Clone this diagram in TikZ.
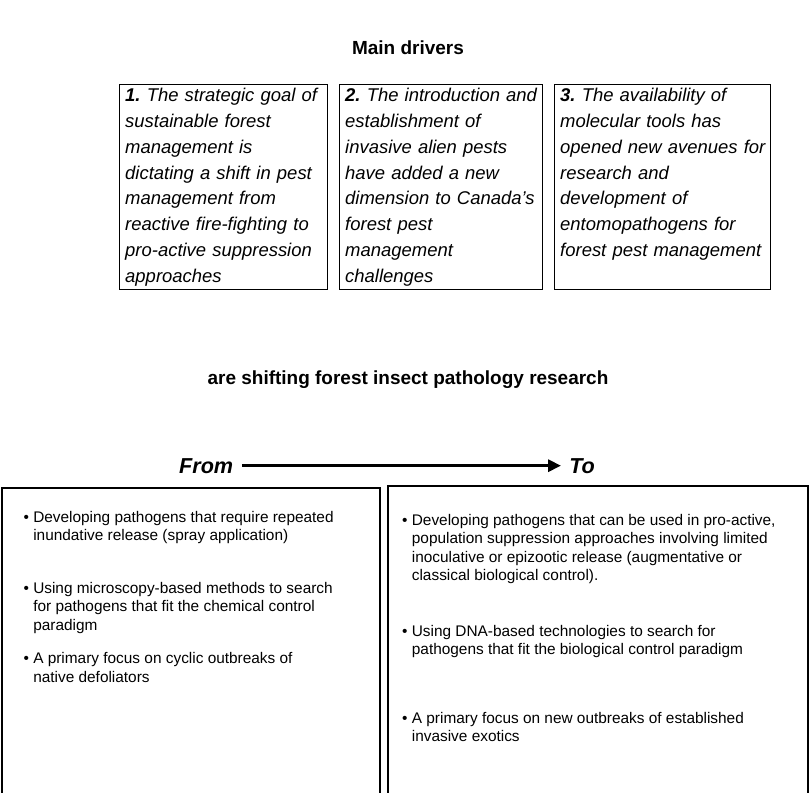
\documentclass[tikz,border=0pt]{standalone}
\usepackage{fontspec}
\setmainfont{Liberation Sans}
\usetikzlibrary{positioning}
\usetikzlibrary{arrows.meta}

\frenchspacing
\newcommand{\bul}[1]{\textbullet\ \begin{tabular}[t]{@{}l@{}}#1\end{tabular}}

\tikzset{
  head/.style={font=\fontsize{18}{22}\selectfont\bfseries, inner sep=0},
  drvbox/.style={draw, line width=0.8pt, anchor=north west, inner sep=0, minimum height=6.833cm},
  drvtext/.style={anchor=base west, inner sep=0, text width=6.9cm, align=left,
    font=\fontsize{17.5}{24.4}\selectfont\itshape},
  fromto/.style={font=\fontsize{20.5}{24}\selectfont\bfseries\itshape, inner sep=0},
  shiftbox/.style={line width=1.2pt},
  item/.style={anchor=base west, inner sep=0, font=\fontsize{14.6}{17.6}\selectfont},
}

\begin{document}
\begin{tikzpicture}
\useasboundingbox (0,0) rectangle (27,26.4);
\clip (0,0) rectangle (27,26.4);

% drivers
\node[head] (drivers) at (13.6,24.8) {Main drivers};
\node[drvbox, minimum width=6.933cm] (d1) at (3.967,23.6) {};
\node[drvbox, minimum width=6.767cm] (d2) at (11.3,23.6) {};
\node[drvbox, minimum width=7.2cm] (d3) at (18.467,23.6) {};
\node[drvtext] (t1) at (4.167,23.0) {\textbf{1.} The strategic goal of\\ sustainable forest\\ management is\\ dictating a shift in pest\\ management from\\ reactive fire-fighting to\\ pro-active suppression\\ approaches};
\node[drvtext] (t2) at (11.5,23.0) {\textbf{2.} The introduction and\\ establishment of\\ invasive alien pests\\ have added a new\\ dimension to Canada’s\\ forest pest\\ management\\ challenges};
\node[drvtext] (t3) at (18.667,23.0) {\textbf{3.} The availability of\\ molecular tools has\\ opened new avenues for\\ research and\\ development of\\ entomopathogens for\\ forest pest management};

\node[head] (shifting) at (13.6,13.733) {are shifting forest insect pathology research};

% from -> to
\node[fromto, anchor=base east] (from) at (7.78,10.633) {From};
\node[fromto, anchor=base west] (to) at (18.97,10.633) {To};
\draw[line width=2.6pt, -{Triangle[length=0.43cm,width=0.4cm]}, shorten <=0.28cm, shorten >=0.27cm] (from.east) -- (to.west);

\draw[shiftbox] (0.067,-0.5) -- (0.067,10.133) -- (12.667,10.133) -- (12.667,-0.5);
\draw[shiftbox] (12.933,-0.5) -- (12.933,10.2) -- (26.933,10.2) -- (26.933,-0.5);

\node[item] (l1) at (0.78,9.0) {\bul{Developing pathogens that require repeated\\ inundative release (spray application)}};
\node[item] (l2) at (0.78,6.633) {\bul{Using microscopy-based methods to search\\ for pathogens that fit the chemical control\\ paradigm}};
\node[item] (l3) at (0.78,4.267) {\bul{A primary focus on cyclic outbreaks of\\ native defoliators}};

\node[item] (r1) at (13.4,8.9) {\bul{Developing pathogens that can be used in pro-active,\\ population suppression approaches involving limited\\ inoculative or epizootic release (augmentative or\\ classical biological control).}};
\node[item] (r2) at (13.4,5.2) {\bul{Using DNA-based technologies to search for\\ pathogens that fit the biological control paradigm}};
\node[item] (r3) at (13.4,2.3) {\bul{A primary focus on new outbreaks of established\\ invasive exotics}};

\end{tikzpicture}
\end{document}
